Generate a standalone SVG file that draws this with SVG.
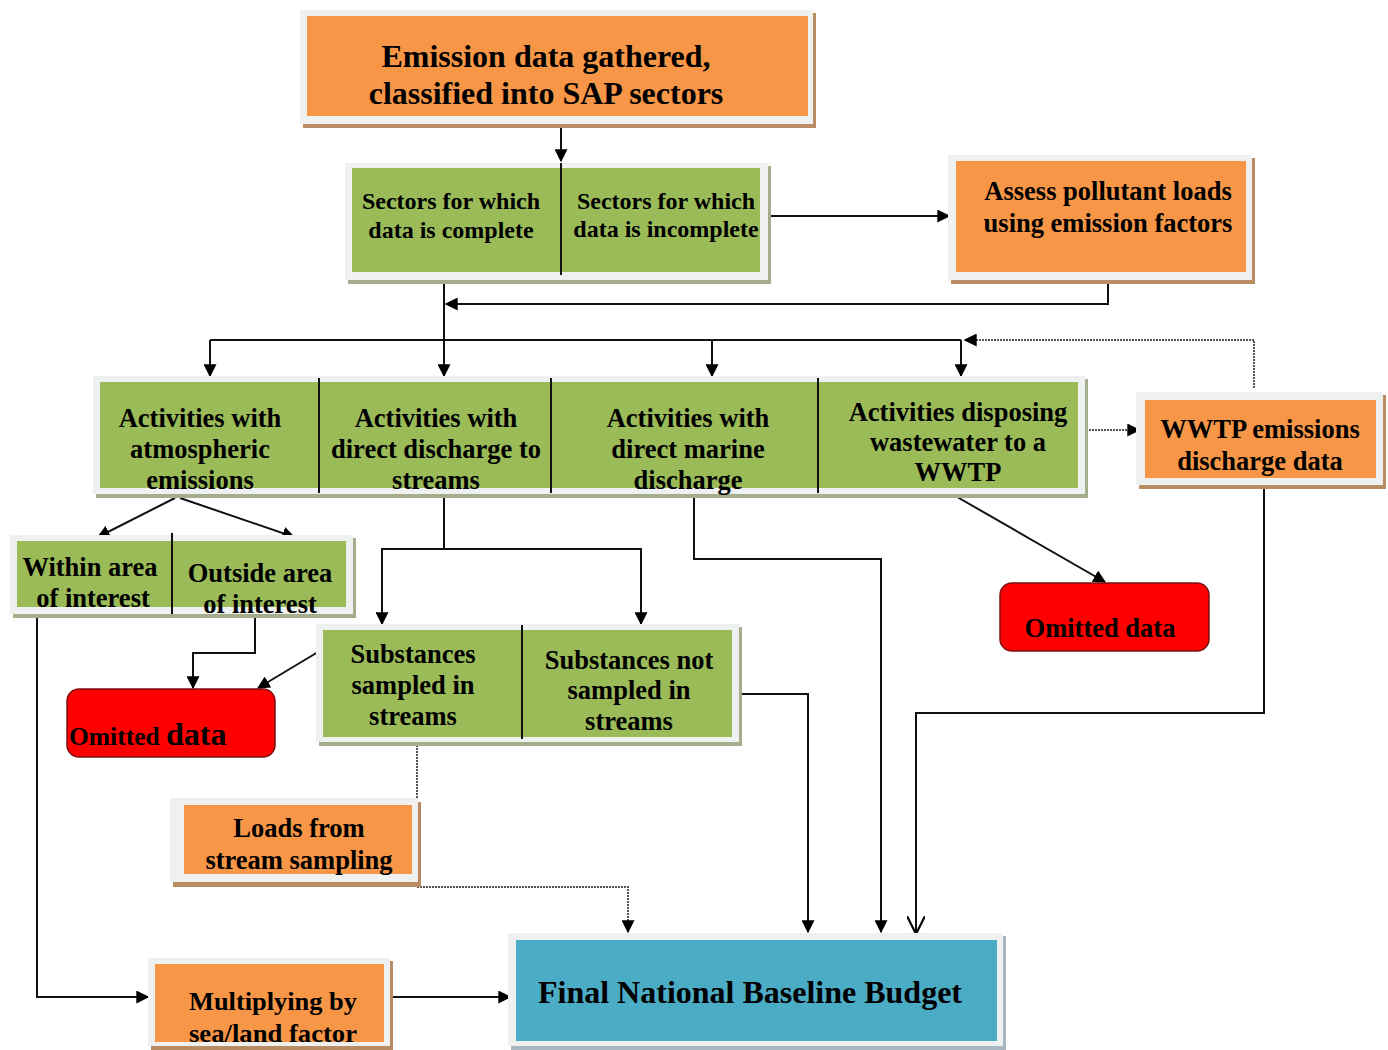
<svg xmlns="http://www.w3.org/2000/svg" width="1388" height="1050" viewBox="0 0 1388 1050">
<style>
text{font-family:"Liberation Serif","Times New Roman",serif;font-weight:bold;fill:#000;text-anchor:middle}
.fr{fill:#eff1f1}
.sg{fill:#a4ad8c}
.so{fill:#b98c63}
.sb{fill:#a9b8c0}
.g{fill:#9bbb59}
.o{fill:#f79646}
.b{fill:#4bacc6}
.r{fill:#ff0000;stroke:#7a1010;stroke-width:1.5}
.dv{stroke:#111;stroke-width:2}
.c{fill:none;stroke:#111;stroke-width:2}
.d{fill:none;stroke:#555;stroke-width:2;stroke-dasharray:2 1}
</style>
<defs>
<marker id="ab" viewBox="0 0 10 10" refX="9" refY="5" markerWidth="13" markerHeight="13" markerUnits="userSpaceOnUse" orient="auto"><path d="M0,0 L10,5 L0,10 z" fill="#000"/></marker>
<marker id="v" viewBox="0 0 10 10" refX="10" refY="5" markerWidth="18" markerHeight="18" markerUnits="userSpaceOnUse" orient="auto"><path d="M0,0 L10,5 L0,10" fill="none" stroke="#000" stroke-width="1.2"/></marker>
</defs>

<g id="connectors">
<path class="c" d="M561,118 V161" marker-end="url(#ab)"/>
<path class="c" d="M763,216 H949" marker-end="url(#ab)"/>
<path class="c" d="M1108,283 V304 H446" marker-end="url(#ab)"/>
<path class="c" d="M444,275 V376" marker-end="url(#ab)"/>
<path class="c" d="M210,340 H961"/>
<path class="c" d="M210,340 V376" marker-end="url(#ab)"/>
<path class="c" d="M712,340 V376" marker-end="url(#ab)"/>
<path class="c" d="M961,340 V376" marker-end="url(#ab)"/>
<path class="d" d="M1254,388 V340 H965" marker-end="url(#ab)"/>
<path class="d" d="M1083,430 H1139" marker-end="url(#ab)"/>
<path class="c" d="M1264,488 V713 H916 V934" marker-end="url(#v)"/>
<path class="c" d="M175,498 L98,537" marker-end="url(#ab)"/>
<path class="c" d="M180,498 L294,537" marker-end="url(#ab)"/>
<path class="c" d="M255,617 V653 H193 V688" marker-end="url(#ab)"/>
<path class="c" d="M318,652 L258,688" marker-end="url(#ab)"/>
<path class="c" d="M37,617 V997 H148" marker-end="url(#ab)"/>
<path class="c" d="M444,497 V549 H382 V624" marker-end="url(#ab)"/>
<path class="c" d="M444,549 H641 V624" marker-end="url(#ab)"/>
<path class="c" d="M733,694 H808 V932" marker-end="url(#ab)"/>
<path class="c" d="M694,490 V559 H881 V932" marker-end="url(#ab)"/>
<path class="c" d="M952,494 L1105,582" marker-end="url(#ab)"/>
<path class="d" d="M417,745 V800"/>
<path class="d" d="M417,887 H628 V932" marker-end="url(#ab)"/>
<path class="c" d="M388,997 H510" marker-end="url(#ab)"/>
</g>

<g id="n1">
<rect class="so" x="303" y="13" width="513" height="115"/>
<rect class="fr" x="300" y="10" width="513" height="114"/>
<rect class="o" x="307" y="16" width="501" height="100"/>
<text x="546" y="67" font-size="32">Emission data gathered,</text>
<text x="546" y="104" font-size="32">classified into SAP sectors</text>
</g>

<g id="n2">
<rect class="sg" x="348" y="166" width="423" height="118"/>
<rect class="fr" x="345" y="163" width="423" height="117"/>
<rect class="g" x="352" y="168" width="408" height="104"/>
<line class="dv" x1="561" y1="163" x2="561" y2="275"/>
<text x="451" y="209" font-size="24">Sectors for which</text>
<text x="451" y="238" font-size="24">data is complete</text>
<text x="666" y="209" font-size="24">Sectors for which</text>
<text x="666" y="237" font-size="24">data is incomplete</text>
</g>

<g id="n3">
<rect class="so" x="951" y="158" width="304" height="126"/>
<rect class="fr" x="948" y="155" width="304" height="125"/>
<rect class="o" x="956" y="161" width="290" height="111"/>
<text x="1108" y="200" font-size="26.5">Assess pollutant loads</text>
<text x="1108" y="232" font-size="26.5">using emission factors</text>
</g>

<g id="n4">
<rect class="sg" x="96" y="379" width="992" height="119"/>
<rect class="fr" x="93" y="376" width="992" height="118"/>
<rect class="g" x="100" y="382" width="978" height="106"/>
<line class="dv" x1="319" y1="378" x2="319" y2="493"/>
<line class="dv" x1="551" y1="378" x2="551" y2="493"/>
<line class="dv" x1="818" y1="378" x2="818" y2="493"/>
<text x="200" y="427" font-size="26.5">Activities with</text>
<text x="200" y="458" font-size="26.5">atmospheric</text>
<text x="200" y="489" font-size="26.5">emissions</text>
<text x="436" y="427" font-size="26.5">Activities with</text>
<text x="436" y="458" font-size="26.5">direct discharge to</text>
<text x="436" y="489" font-size="26.5">streams</text>
<text x="688" y="427" font-size="26.5">Activities with</text>
<text x="688" y="458" font-size="26.5">direct marine</text>
<text x="688" y="489" font-size="26.5">discharge</text>
<text x="958" y="421" font-size="26.5">Activities disposing</text>
<text x="958" y="451" font-size="26.5">wastewater to a</text>
<text x="958" y="481" font-size="26.5">WWTP</text>
</g>

<g id="n5">
<rect class="so" x="1139" y="395" width="247" height="94"/>
<rect class="fr" x="1136" y="392" width="247" height="93"/>
<rect class="o" x="1145" y="400" width="231" height="78"/>
<text x="1260" y="438" font-size="26.5">WWTP emissions</text>
<text x="1260" y="470" font-size="26.5">discharge data</text>
</g>

<g id="n6">
<rect class="sg" x="13" y="538" width="343" height="80"/>
<rect class="fr" x="10" y="535" width="343" height="79"/>
<rect class="g" x="17" y="541" width="329" height="66"/>
<line class="dv" x1="172" y1="533" x2="172" y2="614"/>
<text x="90" y="576" font-size="26.5">Within area</text>
<text x="93" y="607" font-size="26.5">of interest</text>
<text x="260" y="582" font-size="26.5">Outside area</text>
<text x="260" y="613" font-size="26.5">of interest</text>
</g>

<g id="n7">
<rect class="r" x="67" y="689" width="208" height="68" rx="12"/>
<text x="69" y="745" font-size="25.5" style="text-anchor:start">Omitted <tspan font-size="32">data</tspan></text>
</g>

<g id="n8">
<rect class="sg" x="319" y="627" width="423" height="119"/>
<rect class="fr" x="316" y="624" width="423" height="118"/>
<rect class="g" x="323" y="630" width="409" height="107"/>
<line class="dv" x1="522" y1="625" x2="522" y2="739"/>
<text x="413" y="663" font-size="26.5">Substances</text>
<text x="413" y="694" font-size="26.5">sampled in</text>
<text x="413" y="725" font-size="26.5">streams</text>
<text x="629" y="669" font-size="26.5">Substances not</text>
<text x="629" y="699" font-size="26.5">sampled in</text>
<text x="629" y="730" font-size="26.5">streams</text>
</g>

<g id="n9">
<rect class="r" x="1000" y="583" width="209" height="68" rx="12"/>
<text x="1100" y="637" font-size="26.5">Omitted data</text>
</g>

<g id="n10">
<rect class="so" x="173" y="802" width="248" height="85"/>
<rect class="fr" x="170" y="798" width="248" height="84"/>
<rect class="o" x="184" y="805" width="228" height="69"/>
<text x="299" y="837" font-size="26.5">Loads from</text>
<text x="299" y="869" font-size="26.5">stream sampling</text>
</g>

<g id="n11">
<rect class="sb" x="511" y="936" width="495" height="114"/>
<rect class="fr" x="508" y="933" width="495" height="113"/>
<rect class="b" x="516" y="940" width="481" height="101"/>
<text x="750" y="1003" font-size="32" textLength="424" lengthAdjust="spacingAndGlyphs">Final National Baseline Budget</text>
</g>

<g id="n12">
<rect class="so" x="151" y="961" width="242" height="89"/>
<rect class="fr" x="148" y="958" width="242" height="88"/>
<rect class="o" x="155" y="964" width="229" height="78"/>
<text x="273" y="1010" font-size="25" textLength="168" lengthAdjust="spacingAndGlyphs">Multiplying by</text>
<text x="273" y="1042" font-size="25" textLength="168" lengthAdjust="spacingAndGlyphs">sea/land factor</text>
</g>
</svg>
